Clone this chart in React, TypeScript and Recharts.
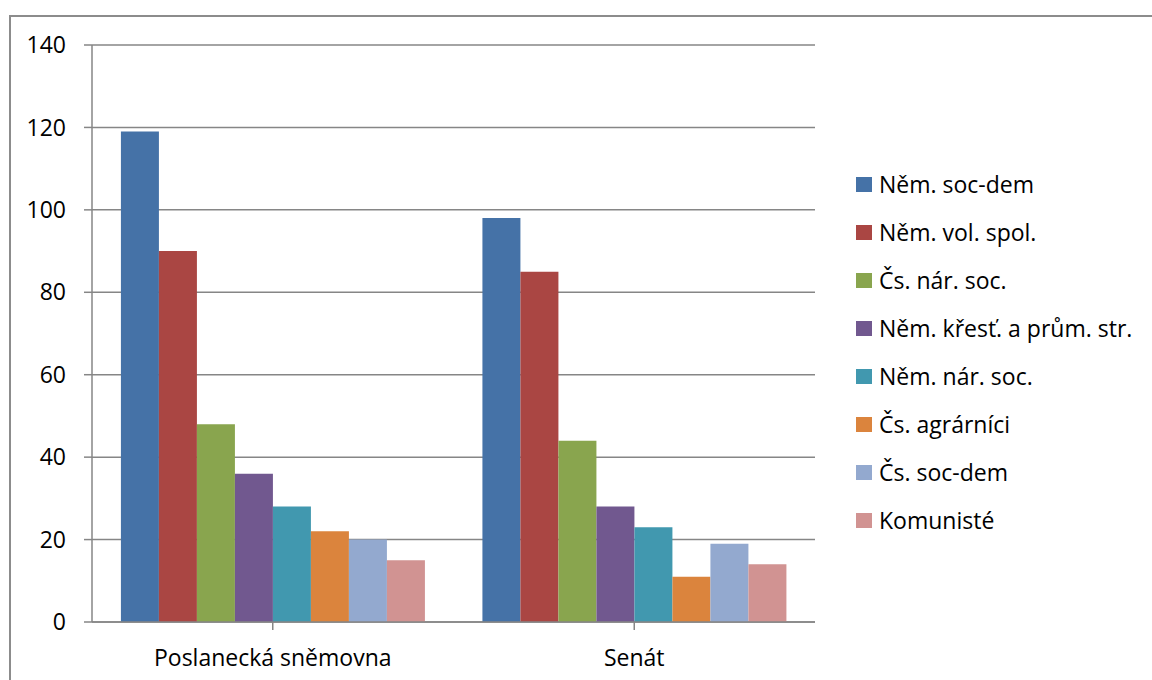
import React from "react";
import { BarChart, Bar, XAxis, YAxis, CartesianGrid } from "recharts";

const categories = ["Poslanecká sněmovna", "Senát"];
const seriesNames = [
  "Něm. soc-dem",
  "Něm. vol. spol.",
  "Čs. nár. soc.",
  "Něm. křesť. a prům. str.",
  "Něm. nár. soc.",
  "Čs. agrárníci",
  "Čs. soc-dem",
  "Komunisté",
];
const nemSocDem = [119, 98];
const nemVolSpol = [90, 85];
const csNarSoc = [48, 44];
const nemKrest = [36, 28];
const nemNarSoc = [28, 23];
const csAgrarnici = [22, 11];
const csSocDem = [20, 19];
const komuniste = [15, 14];
const yTicks = [0, 20, 40, 60, 80, 100, 120, 140];
const colors = ["#4572A7", "#AA4643", "#89A54E", "#71588F", "#4198AF", "#DB843D", "#93A9CF", "#D19392"];

const seriesValues = [nemSocDem, nemVolSpol, csNarSoc, nemKrest, nemNarSoc, csAgrarnici, csSocDem, komuniste];
const data = categories.map((c, i) => {
  const row: Record<string, string | number> = { name: c };
  seriesNames.forEach((s, k) => {
    row["s" + k] = seriesValues[k][i];
  });
  return row;
});

const FONT = "'Open Sans', sans-serif";

export default function App() {
  return (
    <div style={{ position: "absolute", left: 0, top: 0, width: 1152, height: 680, background: "#fff", overflow: "hidden" }}>
      <div
        style={{
          position: "absolute",
          left: 9,
          top: 15,
          width: 1200,
          height: 700,
          borderLeft: "2px solid #8c8c8c",
          borderTop: "2px solid #8c8c8c",
        }}
      />
      <div style={{ position: "absolute", left: 0, top: 0 }}>
        <BarChart
          width={1152}
          height={680}
          data={data}
          margin={{ top: 45, right: 337, bottom: 0, left: 0 }}
          barCategoryGap="8%"
          barGap={0}
        >
          <CartesianGrid vertical={false} stroke="#868686" strokeWidth={1.5} />
          <XAxis
            dataKey="name"
            height={58}
            axisLine={{ stroke: "#868686", strokeWidth: 1.5 }}
            tickLine={{ stroke: "#868686", strokeWidth: 1.5 }}
            tickSize={8}
            interval={0}
            tick={{ fill: "#000", fontSize: 23, fontFamily: FONT, dy: 18 }}
          />
          <YAxis
            width={92}
            domain={[0, 140]}
            ticks={yTicks}
            interval={0}
            axisLine={{ stroke: "#868686", strokeWidth: 1.5 }}
            tickLine={{ stroke: "#868686", strokeWidth: 1.5 }}
            tickSize={8}
            tick={{ fill: "#000", fontSize: 23, fontFamily: FONT, dx: -16 }}
          />
          {seriesNames.map((s, k) => (
            <Bar key={s} dataKey={"s" + k} name={s} fill={colors[k]} isAnimationActive={false} />
          ))}
        </BarChart>
      </div>
      <div style={{ position: "absolute", left: 856, top: 160, fontFamily: FONT, fontSize: 23, color: "#000" }}>
        {seriesNames.map((s, k) => (
          <div key={s} style={{ display: "flex", alignItems: "center", height: 48, whiteSpace: "nowrap" }}>
            <div style={{ width: 16, height: 15, background: colors[k], marginRight: 7 }} />
            <span>{s}</span>
          </div>
        ))}
      </div>
    </div>
  );
}
